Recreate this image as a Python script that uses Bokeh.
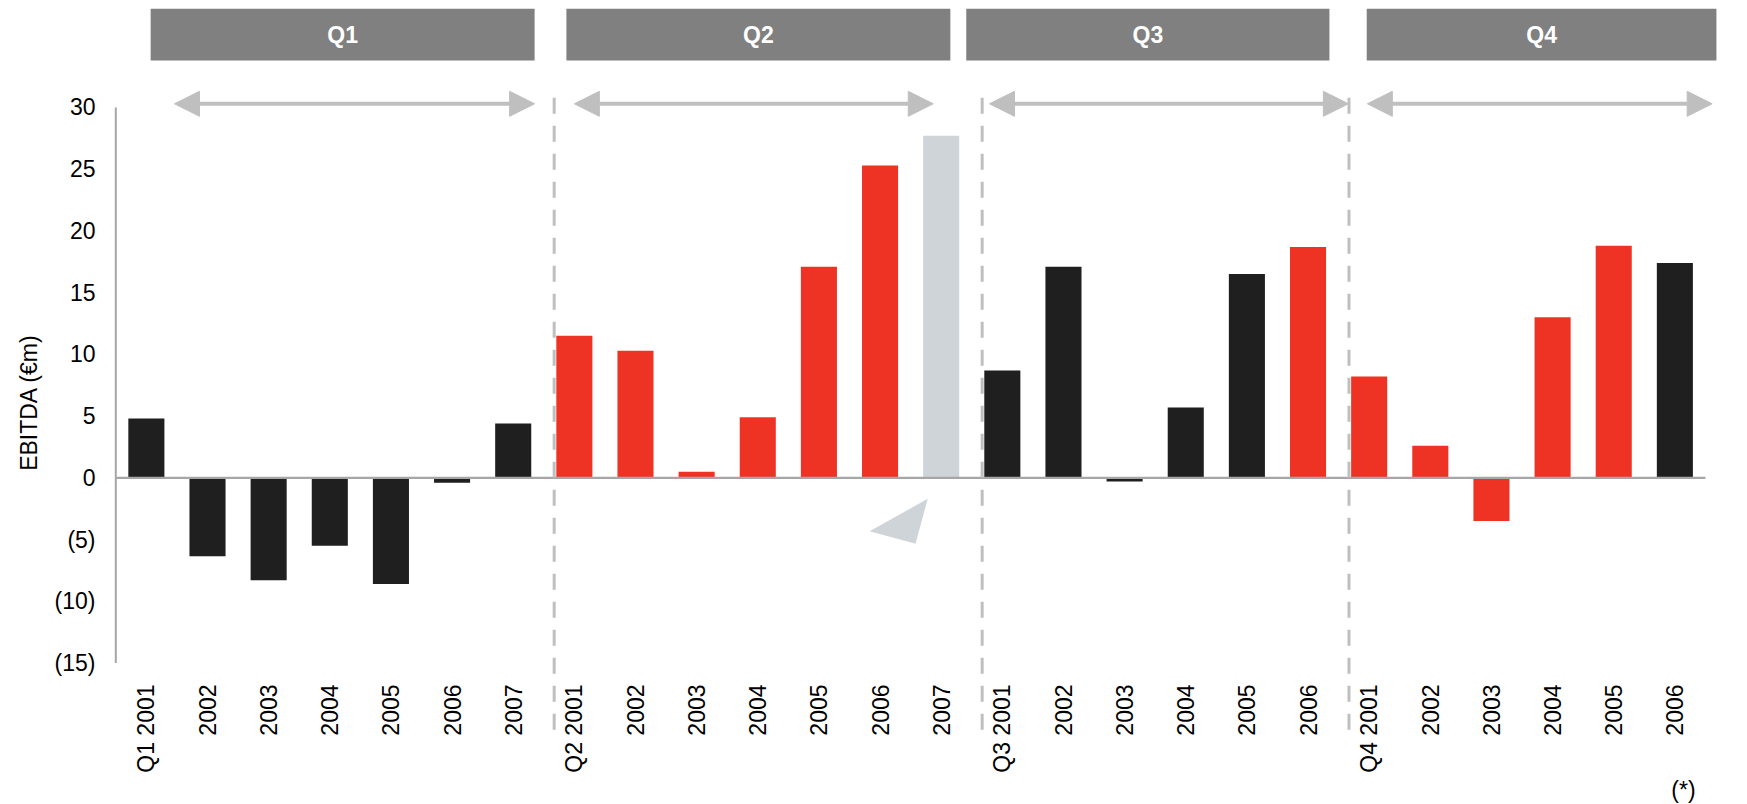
import math
from bokeh.plotting import figure
from bokeh.models import Range1d, FixedTicker, ColumnDataSource, Arrow, NormalHead
from bokeh.core.properties import value
from bokeh.embed import file_html
from bokeh.resources import INLINE

# ---------------- data ----------------
quarters = ["Q1", "Q2", "Q3", "Q4"]

q1_years = ["2001", "2002", "2003", "2004", "2005", "2006", "2007"]
q1_ebitda = [4.8, -6.35, -8.3, -5.5, -8.6, -0.4, 4.4]
q1_kind = ["base", "base", "base", "base", "base", "base", "base"]

q2_years = ["2001", "2002", "2003", "2004", "2005", "2006", "2007"]
q2_ebitda = [11.5, 10.3, 0.5, 4.9, 17.1, 25.3, 27.7]
q2_kind = ["high", "high", "high", "high", "high", "high", "estimate"]

q3_years = ["2001", "2002", "2003", "2004", "2005", "2006"]
q3_ebitda = [8.7, 17.1, -0.3, 5.7, 16.5, 18.7]
q3_kind = ["base", "base", "base", "base", "base", "high"]

q4_years = ["2001", "2002", "2003", "2004", "2005", "2006"]
q4_ebitda = [8.2, 2.6, -3.5, 13.0, 18.8, 17.4]
q4_kind = ["high", "high", "high", "high", "high", "base"]

y_ticks = [-15, -10, -5, 0, 5, 10, 15, 20, 25, 30]
y_tick_labels = ["(15)", "(10)", "(5)", "0", "5", "10", "15", "20", "25", "30"]
y_title = "EBITDA (€m)"
footnote = "(*)"

# ---------------- styles ----------------
KIND_COLORS = {"base": "#1f1f1f", "high": "#ee3325", "estimate": "#cfd4d8"}
FONT = "Liberation Sans"
AXIS_GREY = "#a6a6a6"
LIGHT_GREY = "#bfbfbf"
HEADER_GREY = "#808080"

# ---------------- layout (pixels) ----------------
W, H = 1747, 804
LEFT = 113
X0_PX = 115.3      # pixel position of x = -0.5
PX_X = 61.14       # pixels per category
ZERO_PX = 477.3    # pixel row of y = 0
PX_Y = 12.345      # pixels per EBITDA unit


def ypx(pix):
    return (ZERO_PX - pix) / PX_Y


x_start = -0.5 - (X0_PX - LEFT) / PX_X
x_end = x_start + (W - LEFT) / PX_X
y_start = -(H - ZERO_PX) / PX_Y
y_end = ZERO_PX / PX_Y

groups = [
    (quarters[0], q1_years, q1_ebitda, q1_kind),
    (quarters[1], q2_years, q2_ebitda, q2_kind),
    (quarters[2], q3_years, q3_ebitda, q3_kind),
    (quarters[3], q4_years, q4_ebitda, q4_kind),
]

xs, vals, colors, labels, group_first, group_last, kinds = [], [], [], [], [], [], []
i = 0
for q, yrs, ev, kd in groups:
    group_first.append(i)
    for j, (yr, v, k) in enumerate(zip(yrs, ev, kd)):
        xs.append(i)
        vals.append(v)
        colors.append(KIND_COLORS[k])
        kinds.append(k)
        labels.append(f"{q} {yr}" if j == 0 else yr)
        i += 1
    group_last.append(i - 1)
n = len(xs)

p = figure(width=W, height=H,
           x_range=Range1d(x_start, x_end), y_range=Range1d(y_start, y_end),
           x_axis_location=None, output_backend="svg", toolbar_location=None,
           min_border_left=LEFT, min_border_right=0, min_border_top=0, min_border_bottom=0)
p.outline_line_color = None
p.grid.visible = False
p.background_fill_color = "white"
p.border_fill_color = "white"

# y axis
ya = p.yaxis[0]
ya.ticker = FixedTicker(ticks=y_ticks)
ya.major_label_overrides = {t: l for t, l in zip(y_ticks, y_tick_labels)}
ya.major_label_text_font = FONT
ya.major_label_text_font_size = "23px"
ya.major_label_text_color = "black"
ya.major_label_standoff = 18
ya.major_tick_in = 0
ya.major_tick_out = 0
ya.minor_tick_in = 0
ya.minor_tick_out = 0
ya.axis_line_color = None
ya.axis_label = y_title
ya.axis_label_text_font = FONT
ya.axis_label_text_font_style = "normal"
ya.axis_label_text_font_size = "23px"
ya.axis_label_text_color = "black"
ya.axis_label_standoff = 10

# axis line
p.segment(x0=[-0.5], y0=[min(y_ticks)], x1=[-0.5], y1=[max(y_ticks)], line_color=AXIS_GREY, line_width=2)

# bars
src = ColumnDataSource(dict(x=xs, v=vals, color=colors))
p.vbar(x="x", top="v", bottom=0, width=0.59, fill_color="color", line_color=None, source=src)
# zero line
p.segment(x0=[-0.5], y0=[0], x1=[n - 0.5], y1=[0], line_color=AXIS_GREY, line_width=2.3)

# estimate pointer triangle (relative to the estimate bar)
ei = xs[kinds.index("estimate")]
p.patch(x=[ei - 0.22, ei - 1.17, ei - 0.42], y=[-1.70, -4.33, -5.35], fill_color="#cfd4d8", line_color=None)

# dashed dividers between quarters
div_x = [group_first[k] - 0.33 for k in range(1, len(groups))]
p.segment(x0=div_x, y0=[ypx(97.3)] * len(div_x), x1=div_x, y1=[ypx(730)] * len(div_x),
          line_color=LIGHT_GREY, line_width=3, line_dash="16 12")

# header boxes
box_l = [0.07, 6.87, 13.41, 19.96]
box_r = [6.35, 13.15, 19.35, 25.68]
p.quad(left=box_l, right=box_r, top=ypx(8.3), bottom=ypx(60), fill_color=HEADER_GREY, line_color=None)
p.text(x=[(a + b) / 2 for a, b in zip(box_l, box_r)], y=[ypx(34.5)] * 4, text=quarters,
       text_align="center", text_baseline="middle", text_color="white",
       text_font=value(FONT), text_font_style="bold", text_font_size="23px")

# double-headed arrows
arr_l = [0.46, 7.0, 13.79, 19.97]
arr_r = [6.35, 12.87, 19.66, 25.61]
asrc = ColumnDataSource(dict(x0=arr_l, x1=arr_r, y=[ypx(103.3)] * 4))
p.add_layout(Arrow(start=NormalHead(size=25, fill_color=LIGHT_GREY, line_color=LIGHT_GREY, line_width=1),
                   end=NormalHead(size=25, fill_color=LIGHT_GREY, line_color=LIGHT_GREY, line_width=1),
                   x_start="x0", y_start="y", x_end="x1", y_end="y", source=asrc,
                   line_color=LIGHT_GREY, line_width=4))

# category labels (rotated)
p.text(x=xs, y=[ypx(684)] * n, text=labels, angle=math.pi / 2,
       text_align="right", text_baseline="middle", text_color="black",
       text_font=value(FONT), text_font_size="23px")

# footnote
p.text(x=[(1683 - X0_PX) / PX_X - 0.5], y=[ypx(789)], text=[footnote],
       text_align="center", text_baseline="middle", text_color="black",
       text_font=value(FONT), text_font_size="23px")

open("out.html", "w").write(file_html(p, INLINE, "EBITDA"))
